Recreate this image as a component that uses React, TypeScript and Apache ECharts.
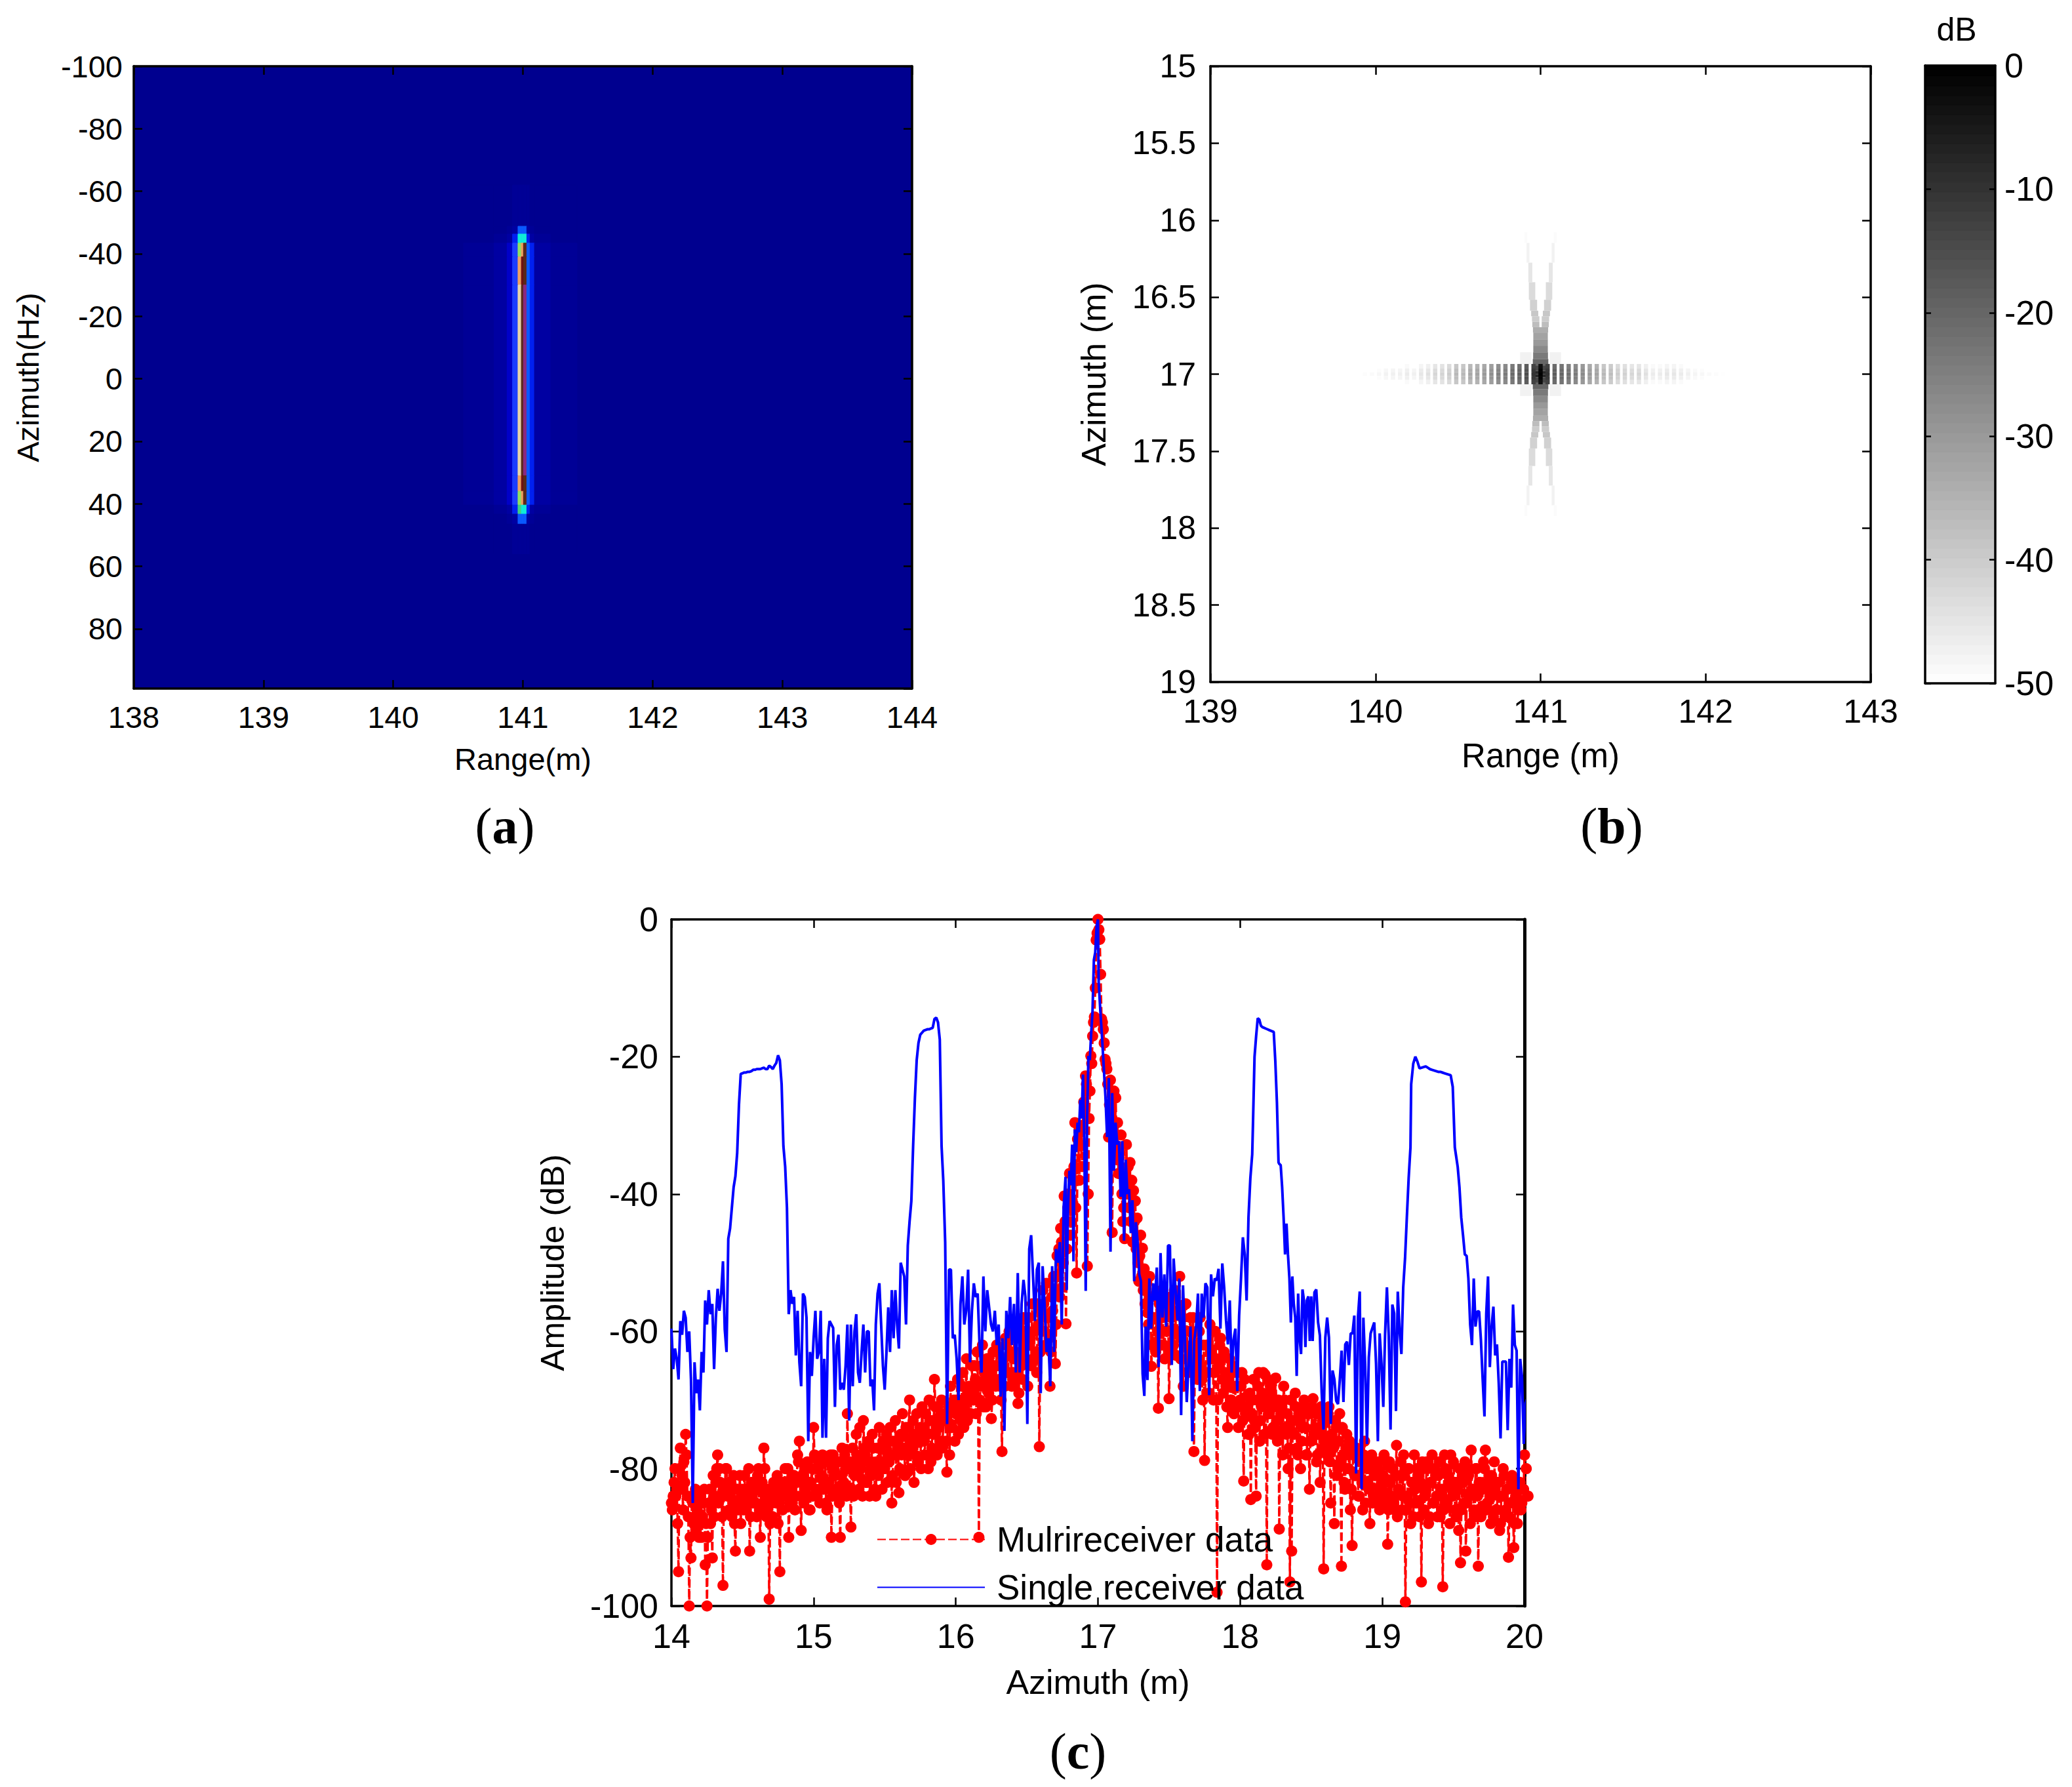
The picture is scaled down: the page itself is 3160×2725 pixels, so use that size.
import React, { useEffect, useRef } from "react";
import * as echarts from "echarts";

const FONT = "Liberation Sans";

// Panel (c): single receiver trace, read piecewise: [fromMetres, toMetres, dB values]
const blueLeftSide = [
  -59.6,-65.5,-62.5,-64,-67,-58.5,-60.5,-57,-58,-63,
  -60,-67,-85,-64.5,-69,-67,-71.5,-63,-66,-55.5,
  -59,-54,-57.5,-56,-65.5,-58,-53.8,-57,-54.5,-49.8,
  -59.7,-63,-46.5,-45,-42,-39,-37.4,-34,-27,-22.5,
  -22.4,-22.3,-22.3,-22.2,-22.2,-22.1,-21.9,-21.9,-21.8,-21.8,
  -21.8,-21.7,-21.6,-21.8,-21.8,-21.3,-21.5,-21.8,-21.3,-20.9,
  -19.8,-20.5,-24,-33,-36,-42,-57.5,-54,-56,-55,
  -63.5,-57,-64.5,-68,-54.5,-55,-58,-76,-63,-66.5,
  -61,-57,-64,-63,-57,-75.5,-64,-75.5,-61,-58.5,
  -59,-59.5,-71,-62,-60.5,-68.5,-67.5,-68.5,-65,-59,
  -73,-59,-68,-60,-57.5,-66,-67.5,-63,-59,-66,
  -60,-60,-68,-67,-71.5,-59,-54.5,-53,-59,-65,
  -68.5,-63,-56.5,-63,-54,-61,-54,-59,-62.5,-50,
  -51,-52,-59,-47.5,-44,-41,-33,-26,-20.5,-18,
  -16.8,-16.5,-16.2,-16.1,-16,-16,-15.9,-15.8,-14.5,-14.3,
  -15,-17.5,-33,
];
const blueBeforePeak = [
  -38,-47,-73.5,-51,-51,-61,-60.5,-64,-70,-56,-52,-59,-57,-51,-64.5,-57,-53,-55,-54.5,-62,
  -66,-52,-60,-54,-56.5,-59,-60,-57,-62,-59,-69.5,-61,-74.5,-57,-61,-55,-62,-56,-66,-51.5,
  -66,-56,-52.5,-55,-73.5,-48,-46,-52,-58.5,-51,-50,-69,-50.5,-56,-63,-61,-68,-50.5,-63,-48,
  -50,-47,-59,-42,-37.5,
];
const bluePeakRise = [-54,-41.8,-36.6,-38.7,-32.8,-49.8,-30.6,-33.9,-29.6,-31,-26.3,-29,-22.6,-33,-54.1,-29,-19.9,-20.5,-16.6,-13.4,-5.9,-4.8,-1,0];
const bluePeakFall = [-9.1,-13.4,-17.2,-21.5,-25.8,-31.7,-23.1,-48.4,-25.3,-36.6,-29.6,-32.8,-32.3,-40.4,-32.3,-46.8,-35,-40,-39.3,-45.7,-40.9,-52.7,-44.1,-46.8,-51.7,-52.7,-66.2,-69.4];
const blueAfterPeak = [
  -59.3,-67.1,-52.3,-59.6,-53,-55.5,-50.7,-65.2,-48.6,-58,-51.7,-59.3,-47.5,-47.5,-64.9,-49.4,-53.9,-58.4,-52.3,-72.2,
  -53.3,-60.9,-70.3,-64.7,-59.3,-76,-61.4,-59.3,-54.5,-68.7,-54.5,-58,-53,-53.6,-69.3,-51.7,-54.9,-52.3,-52.6,-50.9,
  -59.6,-50.1,-53.6,-58.4,-61.9,-55.5,-66,-61.2,-59.6,-68.7,-57.7,-52.3,-46.3,-48.8,-55.5,-43.4,-37.7,-34.2,
];
const blueLobe18 = [-30,-20,-17,-14.4,-14.6,-15.5,-15.7,-15.8,-15.9,-16,-16.1,-16.2,-16.3,-16.4,-20.7,-26.7,-35.4];
const blueAfter18 = [-35.6,-35.8,-39,-43.4,-48.8,-44.3,-48.8,-52.3,-58.7,-52,-56,-58,-66.5,-54.5,-61,-63.3,-53.9,-55.5,-62.3,-55.5,-54.9,-61.4,-54.9];
const blueBefore19 = [
  -61.4,-54.3,-53.9,-58.7,-60.6,-68.9,-74.3,-60.9,-58,-60.9,-73.5,-65.7,-67,-70.1,-70.6,-67,-62.8,-70.3,-61.9,-61.5,
  -64.9,-60.3,-60.3,-57.7,-80.7,-58,-54.2,-83,-58,-65,-76.4,-63.8,-60.3,-59.5,-58.7,-64.7,-76,-60.3,-64.7,-71,
  -60.3,-53.6,-60.6,-74.3,-56.1,-57.4,-71.6,-54.2,-60,-63.3,-53.6,-49.4,-43.4,-37.7,-33.2,
];
const blueLobe19 = [-24,-21,-20,-20.7,-21.7,-21.6,-21.5,-21.4,-21.6,-21.8,-21.9,-22,-22.1,-22.2,-22.2,-22.3,-22.4,-22.5,-22.6,-22.7,-24.4,-33.2];
const blueTail = [-36,-39,-43.4,-46,-48.8,-49,-52.3,-59,-62,-52.3,-59.3,-57.1,-57.1,-61.2,-67,-72.4,-57.4,-52,-65.2,-59.3,-56.4,-63.5,-61.9,-67.6,-75.6,-64.4,-64.4,-64.4,-74.4,-64,-68.2,-56.1,-62,-62.8,-83,-64,-66.6,-76.4,-70.5,-69.7];
const blueTrace: [number, number, number[]][] = [
  [14, 15.9, blueLeftSide],
  [15.912, 16.772, blueBeforePeak],
  [16.78, 17.0, bluePeakRise],
  [17.005, 17.326, bluePeakFall],
  [17.335, 18.085, blueAfterPeak],
  [18.09, 18.27, blueLobe18],
  [18.275, 18.5, blueAfter18],
  [18.51, 19.198, blueBefore19],
  [19.203, 19.51, blueLobe19],
  [19.53, 20.02, blueTail],
];

// Panel (c): multireceiver trace, one value per 0.0125 m from 14 m, and the cloud between them
const redStart = 14;
const redStep = 0.0125;
const redValues = [
  -85,-84,-80,-83,-95,-77,-81,-79,-75,-84,-100,-93,-85,-87,-89,-84,-87,-90,-85,-94,
  -100,-85,-88,-93,-87,-82,-78,-80,-84,-97,-83,-80,-82,-84,-87,-81,-92,-83,-85,-88,
  -83,-81,-86,-84,-92,-82,-85,-83,-87,-80,-90,-82,-77,-84,-86,-99,-83,-87,-82,-85,
  -88,-95,-82,-84,-80,-83,-90,-82,-85,-81,-84,-78,-76,-89,-82,-80,-84,-82,-86,-80,
  -74,-80,-84,-79,-83,-78,-82,-85,-79,-83,-90,-78,-81,-84,-79,-90,-77,-82,-80,-72,
  -80,-88.5,-77,-81,-75,-79,-74,-81.5,-73,-78,-82,-76,-79,-75,-80,-84,-77,-74,-79,-76,
  -80,-75,-78,-74,-85,-76,-73,-78,-83.5,-75,-72,-77,-74,-80.5,-70,-76,-73,-78,-72,-79,
  -74,-71,-76,-72,-75,-70,-79,-73,-67,-74,-71,-76,-70,-73,-72,-80.5,-71,-68,-74,-70,
  -72,-67,-70,-73,-66,-71,-64,-69,-72,-65,-70,-67,-63,-90,-68,-62,-66,-71,-64,-68,
  -72.7,-63,-67,-62,-65,-68,-77.5,-64,-61,-66,-60,-63,-67,-60,-64,-70.5,-61,-65,-58,-62,
  -64.6,-58,-61,-56,-60,-63,-56,-76.8,-57,-54,-60,-53,-58,-68,-55,-52,-64.7,-49,-48,-45,
  -53.6,-40.3,-58.9,-42,-37,-44,-38,-29.6,-51.5,-33,-31,-36,-26.6,-22.8,-50.5,-29,-19.9,-17,-14.2,-3,
  0,-2.9,-14.5,-16,-20.4,-21.8,-31.7,-23.4,-45.6,-25,-26,-29.6,-34.7,-31.4,-44,-46.5,-32.8,-36,-35.4,-38,
  -39.5,-41,-43.5,-52.7,-46,-47.9,-50.9,-53.7,-57.3,-52,-65.1,-58,-61.6,-55,-71.2,-60,-54,-62,-56,-60,
  -69.8,-55,-60,-54,-63.5,-57,-52,-61,-68,-56,-60,-64,-58,-66,-77.5,-62,-67,-60,-65,-70,
  -78.8,-62,-66,-59,-64,-70,-60,-98,-65,-61,-67,-63,-68,-74,-64,-70,-66,-71,-68,-74,
  -70,-66,-81.8,-72,-69.4,-75,-84.5,-70,-73,-84,-68,-76,-71,-66,-66.3,-94,-72,-68,-75,-70,
  -66.8,-76,-88.8,-72,-78,-70,-75,-80,-96.5,-92,-73,-69,-77,-72,-80,-74,-70,-78,-72,-83,
  -76,-69.8,-74,-79,-72,-82,-75,-94.6,-73,-78,-71,-85,-76,-88,-74,-80,-72,-94.2,-78,-83,
  -75,-80,-86,-91.2,-77,-81,-78,-84,-79,-86,-76,-82,-80,-88,-78,-84,-81,-85,-79,-83,
  -85,-78,-82,-91,-79,-84,-80,-86,-76.6,-83,-81,-86,-78,-99.4,-84,-80,-88,-82,-78,-85,
  -81,-87,-96.5,-80,-84,-79,-88,-82,-78,-85,-81,-87,-79,-84,-97.2,-78,-85,-81,-88,-83,
  -79,-86,-82,-89,-93.7,-81,-85,-92,-80,-84,-77.3,-83,-87,-80,-94.2,-82,-86,-79,-77.3,-85,
  -81,-88,-83,-79,-86,-82,-89,-84,-80,-87,-83,-92.9,-85,-81,-91.5,-84,-88,-82,-86,-83,-78,-80,-84,
];
const redBetween = [
  -86,-82,-84,-88,-80,-83,-86,-82,-78,-87,-90,-84,-88,-83,-86,-90,-84,-87,-83,-88,
  -90,-83,-86,-81,-84,-80,-85,-82,-87,-83,-80,-84,-86,-82,-85,-88,-83,-86,-81,-84,
  -86,-83,-85,-80,-87,-84,-82,-85,-81,-86,-83,-85,-80,-87,-83,-88,-85,-82,-84,-81,
  -85,-83,-86,-82,-84,-80,-85,-83,-81,-86,-82,-79,-84,-81,-85,-83,-79,-86,-82,-84,
  -78,-83,-80,-85,-81,-83,-79,-86,-82,-78,-84,-80,-83,-79,-85,-81,-83,-78,-84,-80,
  -83,-79,-84,-80,-78,-83,-80,-84,-77,-82,-79,-84,-81,-77,-83,-79,-81,-77,-83,-80,
  -77,-82,-79,-76,-81,-78,-82,-76,-80,-78,-75,-81,-78,-74,-80,-77,-82,-75,-79,-76,
  -80,-74,-78,-75,-80,-73,-77,-75,-71,-78,-74,-72,-77,-73,-76,-72,-78,-74,-71,-76,
  -70,-75,-72,-68,-74,-70,-73,-68,-72,-69,-65,-72,-68,-70,-65,-71,-67,-64,-69,-66,
  -70,-65,-68,-63,-67,-70,-64,-68,-62,-66,-63,-68,-64,-61,-66,-69,-63,-67,-60,-64,
  -68,-62,-65,-60,-64,-66,-59,-63,-60,-56,-62,-58,-61,-63,-57,-54,-59,-52,-55,-47,
  -50,-44,-48,-40,-46,-41,-36,-42,-32,-38,-33,-30,-28,-24,-40,-25,-21,-15,-10,-2,
  -1.5,-8,-15,-18,-21,-24,-27,-29,-31,-33,-35,-37,-34,-40,-42,-38,-40,-42,-44,-47,
  -44,-48,-50,-49,-52,-54,-56,-53,-59,-55,-62,-58,-63,-60,-56,-62,-58,-64,-60,-57,
  -63,-58,-62,-55,-60,-57,-64,-58,-62,-56,-66,-60,-63,-58,-65,-60,-64,-58,-67,-62,
  -66,-62,-69,-63,-60,-66,-64,-70,-62,-64,-69,-66,-71,-67,-70,-65,-72,-68,-66,-71,
  -68,-73,-67,-71,-75,-69,-72,-67,-74,-70,-66,-73,-69,-75,-70,-67,-72,-69,-74,-71,
  -73,-70,-75,-71,-68,-74,-72,-77,-70,-73,-75,-71,-78,-73,-76,-71,-74,-78,-72,-76,
  -71,-75,-72,-78,-74,-71,-77,-73,-76,-72,-79,-75,-77,-73,-81,-76,-79,-74,-82,-77,
  -80,-76,-83,-78,-81,-77,-84,-79,-82,-78,-85,-80,-83,-79,-85,-81,-84,-80,-86,-82,
  -81,-84,-79,-86,-82,-80,-85,-81,-87,-83,-79,-84,-81,-86,-80,-85,-82,-87,-83,-80,
  -85,-82,-79,-86,-83,-80,-87,-82,-85,-80,-84,-81,-87,-83,-86,-80,-85,-82,-78,-84,
  -82,-87,-83,-80,-86,-82,-79,-85,-81,-88,-83,-86,-80,-84,-82,-87,-83,-80,-86,-82,
  -84,-81,-87,-83,-86,-82,-88,-84,-81,-86,-83,-87,-82,-85,-88,-83,-86,-82,-85,-83,
];

// Panel (a): range/azimuth spectrum as a small table of colour classes
const aRangeEdges = [140.541, 140.777, 140.878, 140.92, 140.962, 140.988, 141.004, 141.03, 141.055, 141.089, 141.215, 141.417];
const aAzimuthEdges = [-62, -48.8, -46.3, -43.4, -39, -30, 31, 36, 40.4, 43.3, 46.5, 56];
const aPalette = ["#00008f", "#000096", "#0000a2", "#0000c8", "#1a3cff", "#e8d4a8", "#5a2818", "#8a2880", "#0a58ff", "#0020f0", "#10ecd8", "#90e060", "#f0a060", "#701010", "#40d080"];
const aClasses = [
  [0, 0, 0, 1, 1, 1, 1, 1, 0, 0, 0],
  [0, 0, 1, 2, 8, 8, 8, 2, 1, 0, 0],
  [0, 1, 2, 9, 10, 10, 10, 9, 2, 1, 0],
  [1, 2, 3, 4, 11, 12, 6, 8, 9, 2, 1],
  [1, 2, 3, 4, 12, 13, 6, 8, 9, 2, 1],
  [1, 2, 3, 4, 5, 6, 7, 8, 9, 2, 1],
  [1, 2, 3, 4, 12, 13, 6, 8, 9, 2, 1],
  [1, 2, 3, 4, 11, 12, 6, 8, 9, 2, 1],
  [0, 1, 2, 9, 14, 10, 10, 9, 2, 1, 0],
  [0, 0, 1, 2, 8, 8, 8, 2, 1, 0, 0],
  [0, 0, 0, 1, 1, 1, 1, 1, 0, 0, 0],
];

// Panel (b): point-target image
const bCentreRange = 141;
const bCentreAzimuth = 17;
const bCombPitch = 0.04256;
const bCombWidth = 0.026;
const bCombDb = [
  -49.5,-49,-48.5,-47.5,-47,-47,-46,-47,-45,-44,-42,-41.5,-40,-36,-36,-33,-32,-30,-28,-25,-24,-21,-19,-15,-10,
  0,
  -10,-18,-20,-22,-24,-27,-30,-32,-36,-37,-40,-41,-42,-42,-44,-46,-46,-45,-45,-46,-47,-48,-48.5,-49,-49.5,-49.8,
];
// azimuth offset from, offset to, dB drop
const bCombRows = [[-0.066, -0.036, -3], [-0.036, -0.012, -1], [-0.012, 0.012, 0], [0.012, 0.036, -1], [0.036, 0.066, -3]];
// azimuth distance from, to, range offset inner, outer, dB
const bLobeRows = [
  [0, 0.02, 0, 0.05, -8],
  [0.02, 0.057, 0, 0.05, -14],
  [0.057, 0.099, 0, 0.047, -20],
  [0.099, 0.142, 0, 0.045, -24],
  [0.142, 0.185, 0, 0.044, -27],
  [0.185, 0.227, 0, 0.044, -30],
  [0.227, 0.27, 0, 0.044, -32],
  [0.27, 0.305, 0, 0.046, -34],
  [0.305, 0.341, 0.007, 0.05, -37],
  [0.341, 0.376, 0.007, 0.052, -40],
  [0.376, 0.412, 0.014, 0.057, -39],
  [0.412, 0.483, 0.021, 0.064, -41],
  [0.483, 0.597, 0.032, 0.071, -43],
  [0.597, 0.724, 0.05, 0.074, -45],
  [0.724, 0.852, 0.067, 0.085, -47.5],
  [0.852, 0.923, 0.08, 0.098, -49.3],
];
const bHaloRows = [[0.064, 0.142, 0.055, 0.124, -47.5]];

const colorbarStepDb = 0.78;

const xTicksA = { min: 138, max: 144, interval: 1 };
const yTicksA = { min: -100, max: 99.1, interval: 20 };
const xTicksB = { min: 139, max: 143, interval: 1 };
const yTicksB = { min: 15, max: 19, interval: 0.5 };
const xTicksC = { min: 14, max: 20, interval: 1 };
const yTicksC = { min: -100, max: 0, interval: 20 };

const BLUE = "#0000ff";
const RED = "#ff0000";

function grayOf(db: number) {
  const g = Math.max(0, Math.min(255, Math.round((-db / 50) * 255)));
  return `rgb(${g},${g},${g})`;
}

function rectRender(colorOf: (v: number) => string, seal = false) {
  return (_p: any, api: any) => {
    const a = api.coord([api.value(0), api.value(2)]);
    const b = api.coord([api.value(1), api.value(3)]);
    const fill = colorOf(api.value(4));
    return {
      type: "rect",
      shape: { x: Math.min(a[0], b[0]), y: Math.min(a[1], b[1]), width: Math.abs(a[0] - b[0]), height: Math.abs(a[1] - b[1]) },
      style: seal ? { fill, stroke: fill, lineWidth: 1 } : { fill },
      silent: true,
    };
  };
}

function buildBlue() {
  const out: number[][] = [];
  for (const [from, to, vals] of blueTrace) {
    vals.forEach((v, i) => out.push([from + ((to - from) * i) / Math.max(1, vals.length - 1), v]));
  }
  return out;
}
function buildRed() {
  const out: number[][] = [];
  redValues.forEach((v, i) => {
    const x = redStart + i * redStep;
    out.push([x, v]);
    if (i < redBetween.length) out.push([x + redStep / 2, redBetween[i]]);
  });
  return out;
}
function buildCellsA() {
  const out: number[][] = [];
  aClasses.forEach((row, r) =>
    row.forEach((c, k) => out.push([aRangeEdges[k], aRangeEdges[k + 1], aAzimuthEdges[r], aAzimuthEdges[r + 1], c]))
  );
  return out;
}
function buildCellsB() {
  const out: number[][] = [];
  for (const [d0, d1, inner, outer, db] of [...bHaloRows, ...bLobeRows]) {
    for (const sy of [-1, 1]) {
      const y0 = bCentreAzimuth + sy * d0;
      const y1 = bCentreAzimuth + sy * d1;
      if (inner === 0) {
        out.push([bCentreRange - outer, bCentreRange + outer, y0, y1, db]);
      } else {
        out.push([bCentreRange - outer, bCentreRange - inner, y0, y1, db]);
        out.push([bCentreRange + inner, bCentreRange + outer, y0, y1, db]);
      }
    }
  }
  bCombDb.forEach((db, i) => {
    const c = bCentreRange + (i - 25) * bCombPitch;
    for (const [a0, a1, drop] of bCombRows) {
      const v = db + drop;
      if (v > -50) out.push([c - bCombWidth / 2, c + bCombWidth / 2, bCentreAzimuth + a0, bCentreAzimuth + a1, v]);
    }
  });
  return out;
}
function buildColorbar() {
  const out: number[][] = [];
  for (let d = -50; d < 0; d += colorbarStepDb) {
    out.push([0, 1, d, Math.min(0, d + colorbarStepDb), Math.min(0, d + colorbarStepDb / 2)]);
  }
  return out;
}

const baseAxisLine = { show: true, onZero: false, lineStyle: { color: "#000", width: 3.5 } };
const tick = { show: true, inside: true, length: 13, lineStyle: { color: "#000", width: 2.5 } };

function axis(grid: number, pos: string, scale: any, extra: any = {}, labelled = true, fontSize = 46, margin = 18) {
  return {
    type: "value",
    gridIndex: grid,
    position: pos,
    ...scale,
    axisLine: baseAxisLine,
    axisTick: tick,
    splitLine: { show: false },
    minorTick: { show: false },
    axisLabel: labelled
      ? { show: true, color: "#000", fontFamily: FONT, fontSize, margin, hideOverlap: false, showMinLabel: true, showMaxLabel: true }
      : { show: false },
    nameTextStyle: { color: "#000", fontFamily: FONT },
    ...extra,
  };
}

function caption(letter: string, cx: number, cy: number) {
  return {
    type: "text",
    x: cx,
    y: cy,
    z: 20,
    style: {
      text: `{p|(}{l|${letter}}{p|)}`,
      align: "center",
      verticalAlign: "middle",
      fill: "#000",
      rich: {
        p: { fontFamily: "Liberation Serif", fontSize: 78, fill: "#000" },
        l: { fontFamily: "Liberation Serif", fontSize: 78, fontWeight: "bold", fill: "#000" },
      },
    },
  };
}

export default function App() {
  const ref = useRef<HTMLDivElement>(null);
  useEffect(() => {
    const chart = echarts.init(ref.current!, undefined, { renderer: "svg" });
    const yALabel = axis(0, "left", yTicksA, {}, true, 47, 17).axisLabel;
    chart.setOption({
      animation: false,
      backgroundColor: "#fff",
      grid: [
        { left: 204, top: 101, width: 1187, height: 949, show: true, backgroundColor: "#00008f", borderWidth: 0, containLabel: false, outerBoundsMode: "none" },
        { left: 1846, top: 101, width: 1007, height: 939, containLabel: false, outerBoundsMode: "none" },
        { left: 2936, top: 100, width: 107, height: 942, containLabel: false, outerBoundsMode: "none" },
        { left: 1024, top: 1402, width: 1301, height: 1047, containLabel: false, outerBoundsMode: "none" },
      ],
      xAxis: [
        axis(0, "bottom", xTicksA, { z: 5, name: "Range(m)", nameLocation: "middle", nameGap: 84, nameTextStyle: { color: "#000", fontFamily: FONT, fontSize: 47 } }, true, 47, 20),
        axis(0, "top", xTicksA, { z: 5 }, false),
        axis(1, "bottom", xTicksB, { z: 5, name: "Range (m)", nameLocation: "middle", nameGap: 87, nameTextStyle: { color: "#000", fontFamily: FONT, fontSize: 51 } }, true, 50, 20),
        axis(1, "top", xTicksB, { z: 5 }, false),
        axis(2, "bottom", { min: 0, max: 1 }, { z: 5, axisTick: { show: false } }, false),
        axis(2, "top", { min: 0, max: 1 }, { z: 5, axisTick: { show: false } }, false),
        axis(3, "bottom", xTicksC, { name: "Azimuth (m)", nameLocation: "middle", nameGap: 90, nameTextStyle: { color: "#000", fontFamily: FONT, fontSize: 52 } }, true, 52, 20),
        axis(3, "top", xTicksC, {}, false),
      ],
      yAxis: [
        axis(0, "left", yTicksA, { z: 5, inverse: true, axisLabel: { ...yALabel, showMaxLabel: false }, name: "Azimuth(Hz)", nameLocation: "middle", nameGap: 138, nameTextStyle: { color: "#000", fontFamily: FONT, fontSize: 47 } }, true, 47, 17),
        axis(0, "right", yTicksA, { z: 5, inverse: true }, false),
        axis(1, "left", yTicksB, { z: 5, inverse: true, name: "Azimuth (m)", nameLocation: "middle", nameGap: 152, nameTextStyle: { color: "#000", fontFamily: FONT, fontSize: 52 } }, true, 50, 22),
        axis(1, "right", yTicksB, { z: 5, inverse: true }, false),
        axis(2, "left", { min: -50, max: 0, interval: 10 }, { z: 5, axisTick: { ...tick, length: 9 } }, false),
        axis(2, "right", { min: -50, max: 0, interval: 10 }, { z: 5, axisTick: { ...tick, length: 9 } }, true, 52, 14),
        axis(3, "left", yTicksC, { name: "Amplitude (dB)", nameLocation: "middle", nameGap: 156, nameTextStyle: { color: "#000", fontFamily: FONT, fontSize: 50 } }, true, 52, 20),
        axis(3, "right", yTicksC, { axisLine: { ...baseAxisLine, lineStyle: { color: "#000", width: 5 } } }, false),
      ],
      legend: {
        left: 1332,
        top: 2316,
        orient: "vertical",
        itemWidth: 164,
        itemHeight: 21,
        itemGap: 20,
        z: 10,
        data: [{ name: "Mulrireceiver data" }, { name: "Single receiver data", itemStyle: { opacity: 0 } }],
        textStyle: { color: "#000", fontFamily: FONT, fontSize: 53, padding: [0, 0, 0, 13] },
      },
      graphic: [
        { type: "text", x: 2984, y: 45, z: 20, style: { text: "dB", align: "center", verticalAlign: "middle", fill: "#000", fontFamily: FONT, fontSize: 50 } },
        caption("a", 770, 1259),
        caption("b", 2458, 1259),
        caption("c", 1644, 2670),
      ],
      series: [
        {
          type: "custom",
          name: "panel a",
          xAxisIndex: 0,
          yAxisIndex: 0,
          z: 1,
          clip: true,
          silent: true,
          renderItem: rectRender((v) => aPalette[v], true),
          data: buildCellsA(),
        },
        {
          type: "custom",
          name: "panel b",
          xAxisIndex: 2,
          yAxisIndex: 2,
          z: 1,
          clip: true,
          silent: true,
          renderItem: rectRender(grayOf),
          data: buildCellsB(),
        },
        {
          type: "custom",
          name: "colour bar",
          xAxisIndex: 4,
          yAxisIndex: 4,
          z: 1,
          clip: true,
          silent: true,
          renderItem: rectRender(grayOf, true),
          data: buildColorbar(),
        },
        {
          type: "line",
          name: "Mulrireceiver data",
          xAxisIndex: 6,
          yAxisIndex: 6,
          data: buildRed(),
          clip: false,
          z: 2,
          symbol: "circle",
          symbolSize: 17,
          showAllSymbol: true,
          itemStyle: { color: RED },
          lineStyle: { color: RED, width: 3.5, type: [13, 5] },
          silent: true,
        },
        {
          type: "line",
          name: "Single receiver data",
          xAxisIndex: 6,
          yAxisIndex: 6,
          data: buildBlue(),
          clip: false,
          z: 3,
          symbol: "none",
          itemStyle: { color: BLUE },
          lineStyle: { color: BLUE, width: 4 },
          silent: true,
        },
      ],
    });
    return () => chart.dispose();
  }, []);
  return <div ref={ref} style={{ position: "absolute", left: 0, top: 0, width: 3160, height: 2725 }} />;
}
